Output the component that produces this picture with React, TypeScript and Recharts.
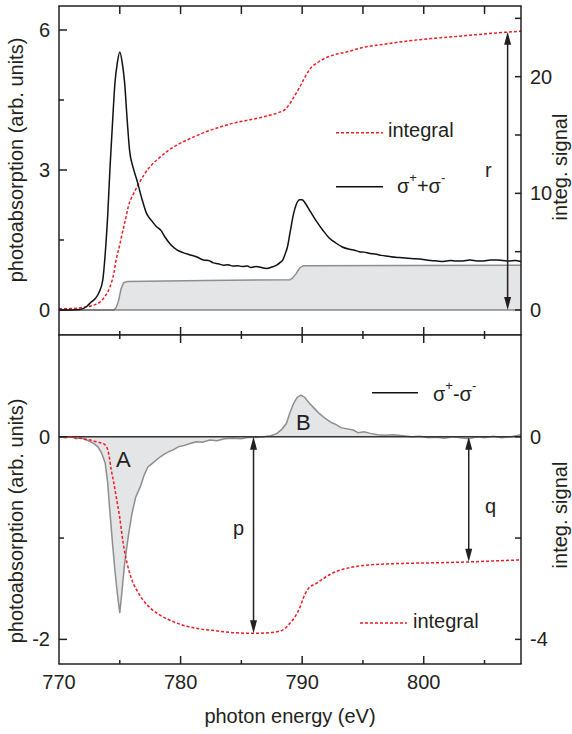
import React from 'react';
import { ComposedChart, Line, Area, XAxis, YAxis, ReferenceLine } from 'recharts';

// ---------- data ----------
// top panel: sigma+ + sigma- (left axis)
const sumE = [770, 771, 771.7, 772.3, 772.6, 773.0, 773.3, 773.6, 773.8, 774.0, 774.2, 774.4, 774.6, 774.8, 775.0, 775.2, 775.4, 775.6, 775.8, 776.1, 776.4, 776.8, 777.2, 777.6, 778.0, 778.4, 778.7, 779.2, 779.7, 780.2, 780.8, 781.3, 781.9, 782.3, 782.7, 783.1, 783.5, 783.9, 784.3, 784.7, 785.1, 785.5, 785.8, 786.2, 786.5, 786.8, 787.1, 787.5, 787.9, 788.2, 788.4, 788.6, 788.8, 789.0, 789.3, 789.5, 789.8, 790.0, 790.3, 790.6, 791.1, 791.7, 792.2, 792.8, 793.3, 793.9, 794.3, 794.7, 795.1, 795.6, 796.0, 796.5, 797.1, 797.7, 798.2, 798.7, 799.2, 799.7, 800.2, 800.6, 801.1, 801.6, 802.2, 802.7, 803.2, 803.8, 804.4, 804.9, 805.5, 806.0, 806.5, 807.0, 807.5, 808.0];
const sumV = [0.0, 0.0, 0.01, 0.08, 0.16, 0.25, 0.38, 0.64, 1.2, 2.0, 3.07, 4.0, 4.86, 5.3, 5.53, 5.3, 4.86, 4.1, 3.43, 3.05, 2.79, 2.4, 2.07, 1.92, 1.79, 1.7, 1.57, 1.4, 1.29, 1.23, 1.18, 1.14, 1.07, 1.06, 1.01, 0.99, 0.96, 0.97, 0.94, 0.95, 0.93, 0.94, 0.91, 0.93, 0.92, 0.9, 0.89, 0.92, 0.96, 1.02, 1.07, 1.2, 1.36, 1.65, 2.07, 2.25, 2.36, 2.36, 2.27, 2.14, 1.93, 1.71, 1.55, 1.43, 1.35, 1.3, 1.28, 1.25, 1.24, 1.21, 1.2, 1.17, 1.15, 1.13, 1.12, 1.11, 1.1, 1.09, 1.07, 1.06, 1.05, 1.04, 1.06, 1.05, 1.05, 1.07, 1.05, 1.05, 1.07, 1.07, 1.06, 1.05, 1.06, 1.04];

// top panel: integral (right axis)
const intE = [770, 771, 772, 772.8, 773.4, 773.8, 774.2, 774.5, 774.7, 775.0, 775.2, 775.5, 775.7, 776.1, 776.5, 777.0, 777.5, 778.2, 778.9, 779.8, 780.8, 781.9, 783.0, 784.3, 785.7, 787.0, 788.0, 788.6, 789.0, 789.4, 789.8, 790.1, 790.6, 791.4, 792.4, 793.6, 795.0, 796.9, 799.0, 801.0, 802.7, 804.3, 806.0, 808.0];
const intV = [0.1, 0.12, 0.23, 0.4, 0.71, 1.2, 2.0, 3.1, 4.3, 5.6, 6.57, 7.9, 8.85, 9.9, 10.7, 11.6, 12.3, 13.0, 13.6, 14.2, 14.7, 15.2, 15.6, 16.0, 16.3, 16.6, 16.9, 17.2, 17.7, 18.4, 19.1, 19.7, 20.6, 21.3, 21.8, 22.1, 22.5, 22.8, 23.1, 23.3, 23.45, 23.6, 23.75, 23.9];

// top panel: two-step background (left axis)
const stepE = [770, 774.5, 774.7, 774.9, 775.1, 775.3, 775.6, 782.0, 789.0, 789.2, 789.5, 789.8, 790.1, 808.0];
const stepV = [0, 0, 0.05, 0.2, 0.45, 0.58, 0.61, 0.63, 0.65, 0.68, 0.78, 0.9, 0.95, 0.96];

// bottom panel: sigma+ - sigma- (left axis)
const difE = [770, 770.5, 771.0, 771.4, 771.8, 772.2, 772.6, 772.9, 773.2, 773.5, 773.8, 774.0, 774.2, 774.4, 774.6, 774.8, 775.0, 775.2, 775.4, 775.7, 776.0, 776.3, 776.7, 777.0, 777.3, 777.8, 778.3, 778.7, 779.0, 779.4, 779.8, 780.2, 780.8, 781.3, 781.8, 782.4, 783.0, 783.6, 784.3, 785.0, 785.6, 786.2, 786.8, 787.4, 787.9, 788.3, 788.7, 789.0, 789.3, 789.6, 789.9, 790.2, 790.6, 791.0, 791.4, 791.9, 792.4, 792.8, 793.2, 793.6, 794.2, 794.6, 795.1, 795.6, 796.2, 796.8, 797.5, 798.3, 799.0, 799.7, 800.4, 801.0, 801.7, 802.4, 803.0, 803.7, 804.4, 805.0, 805.7, 806.4, 807.2, 808.0];
const difV = [0, -0.01, 0.0, -0.02, -0.01, -0.03, -0.05, -0.07, -0.1, -0.16, -0.26, -0.45, -0.76, -1.05, -1.32, -1.55, -1.74, -1.5, -1.25, -0.98, -0.76, -0.6, -0.49, -0.38, -0.3, -0.25, -0.2, -0.17, -0.15, -0.13, -0.1, -0.09, -0.066, -0.05, -0.055, -0.033, -0.04, -0.02, -0.016, -0.02, -0.005, -0.007, 0.0, 0.01, 0.03, 0.07, 0.13, 0.24, 0.33, 0.39, 0.41, 0.39, 0.33, 0.28, 0.23, 0.18, 0.14, 0.12, 0.09, 0.08, 0.066, 0.04, 0.05, 0.033, 0.02, 0.015, 0.02, 0.01, 0.0, 0.005, -0.01, -0.005, -0.015, 0.0, -0.01, -0.02, 0.0, -0.01, 0.005, -0.01, 0.0, 0.02];

// bottom panel: integral (right axis)
const bIntE = [770, 771, 772, 773.1, 773.8, 774.1, 774.3, 774.5, 774.7, 775.0, 775.2, 775.4, 775.6, 775.8, 776.1, 776.5, 776.9, 777.5, 778.3, 779.2, 780.2, 781.5, 782.9, 784.5, 786.0, 787.2, 787.9, 788.5, 789.0, 789.4, 789.8, 790.1, 790.5, 791.2, 792.0, 792.8, 794.0, 795.6, 797.0, 798.3, 800.5, 803.8, 806.0, 808.0];
const bIntV = [0, -0.01, -0.04, -0.1, -0.16, -0.35, -0.66, -0.9, -1.18, -1.6, -1.97, -2.27, -2.5, -2.68, -2.89, -3.07, -3.22, -3.38, -3.52, -3.63, -3.72, -3.79, -3.83, -3.87, -3.88, -3.87, -3.85, -3.8, -3.68, -3.56, -3.38, -3.18, -3.0, -2.89, -2.76, -2.66, -2.58, -2.53, -2.51, -2.5, -2.49, -2.47, -2.45, -2.43];

// axes
const xDomain = [770, 808];
const xTicks = [770, 775, 780, 785, 790, 795, 800, 805];
const xMajor = [770, 780, 790, 800];
const topLeftDomain = [-0.536, 6.514];
const topRightDomain = [-2.143, 26.057];
const botLeftDomain = [-2.243, 1.004];
const botRightDomain = [-4.486, 2.008];
const topLeftTicks = [0, 1.5, 3, 4.5, 6];
const topLeftMajor = [0, 3, 6];
const topRightTicks = [0, 5, 10, 15, 20, 25];
const topRightMajor = [0, 10, 20];
const botLeftTicks = [-2, -1, 0];
const botLeftMajor = [-2, 0];
const botRightTicks = [-4, -2, 0];
const botRightMajor = [-4, 0];

// arrows (energy, right-axis value)
const arrowR = { e: 806.9, v: 23.85 };
const arrowP = { e: 786.0, v: -3.88 };
const arrowQ = { e: 803.7, v: -2.47 };

const zip = (e: number[], v: number[]) => e.map((x, i) => ({ e: x, v: v[i] }));
const sumData = zip(sumE, sumV);
const intData = zip(intE, intV);
const stepData = zip(stepE, stepV);
const difData = zip(difE, difV);
const bIntData = zip(bIntE, bIntV);

const INK = '#231f20';
const RED = '#ec1c24';
const FONT = '"Liberation Sans", Arial, Helvetica, sans-serif';
const FS = 20;

const leftTick = (major: number[]) => (props: any) => {
  const { x, y, payload } = props;
  const isMajor = major.includes(payload.value);
  return (
    <g>
      <line x1={x} x2={x + (isMajor ? 8 : 5)} y1={y} y2={y} stroke={INK} strokeWidth={1.5} />
      {isMajor && (
        <text x={x - 9} y={y + 7} textAnchor="end" fontSize={FS} fontFamily={FONT} fill={INK}>
          {payload.value}
        </text>
      )}
    </g>
  );
};

const rightTick = (major: number[]) => (props: any) => {
  const { x, y, payload } = props;
  const isMajor = major.includes(payload.value);
  return (
    <g>
      <line x1={x} x2={x - 6} y1={y} y2={y} stroke={INK} strokeWidth={1.5} />
      {isMajor && (
        <text x={x + 9} y={y + 7} textAnchor="start" fontSize={FS} fontFamily={FONT} fill={INK}>
          {payload.value}
        </text>
      )}
    </g>
  );
};

// x tick marks drawn on the top and bottom frame through a vertical reference line at the tick value
const xTickShape = (value: number, topUniform: boolean, label: boolean) => (props: any) => {
  const { x1, y1, y2 } = props;
  const top = Math.min(y1, y2);
  const bot = Math.max(y1, y2);
  const isMajor = xMajor.includes(value);
  const topLen = topUniform ? 8 : isMajor ? 8 : 4;
  const botLen = isMajor ? 8 : 4;
  return (
    <g>
      {value !== xDomain[0] && (
        <>
          <line x1={x1} x2={x1} y1={top} y2={top + topLen} stroke={INK} strokeWidth={1.5} />
          <line x1={x1} x2={x1} y1={bot} y2={bot - botLen} stroke={INK} strokeWidth={1.5} />
        </>
      )}
      {label && isMajor && (
        <text x={x1} y={bot + 25} textAnchor="middle" fontSize={FS} fontFamily={FONT} fill={INK}>
          {value}
        </text>
      )}
    </g>
  );
};

const frameShape = (props: any) => {
  const { x1, y1, x2, y2 } = props;
  return <line x1={x1 - 0.75} x2={x2 + 0.75} y1={y1} y2={y2} stroke={INK} strokeWidth={1.5} />;
};

const arrowShape = (props: any) => {
  const { x1, y1, y2 } = props;
  const top = Math.min(y1, y2);
  const bot = Math.max(y1, y2);
  return (
    <g>
      <line x1={x1} x2={x1} y1={top + 8} y2={bot - 8} stroke={INK} strokeWidth={1.5} />
      <polygon points={`${x1},${top} ${x1 - 3.5},${top + 13} ${x1 + 3.5},${top + 13}`} fill={INK} />
      <polygon points={`${x1},${bot} ${x1 - 3.5},${bot - 13} ${x1 + 3.5},${bot - 13}`} fill={INK} />
    </g>
  );
};

function TopPanel() {
  return (
    <ComposedChart width={572} height={335} margin={{ top: 6, right: 0, bottom: 0, left: 0 }}>
      <XAxis xAxisId="xt" type="number" dataKey="e" domain={xDomain} allowDataOverflow hide />
      <YAxis yAxisId="tl" type="number" domain={topLeftDomain} allowDataOverflow ticks={topLeftTicks} interval={0}
        width={59} tickSize={0} tickMargin={0} tickLine={false} axisLine={{ stroke: INK, strokeWidth: 1.5 }} tick={leftTick(topLeftMajor)} />
      <YAxis yAxisId="tr" orientation="right" type="number" domain={topRightDomain} allowDataOverflow ticks={topRightTicks} interval={0}
        width={51} tickSize={0} tickMargin={0} tickLine={false} axisLine={{ stroke: INK, strokeWidth: 1.5 }} tick={rightTick(topRightMajor)} />
      <Area xAxisId="xt" yAxisId="tl" data={stepData} dataKey="v" type="linear" baseValue={0}
        fill="#e4e5e6" fillOpacity={1} stroke="#8e8e8e" strokeWidth={1.5} isAnimationActive={false} dot={false} activeDot={false} />
      <ReferenceLine xAxisId="xt" yAxisId="tl" y={0} stroke="#555" strokeWidth={1.2} />
      <Line xAxisId="xt" yAxisId="tr" data={intData} dataKey="v" type="monotone" stroke={RED} strokeWidth={1.5}
        strokeDasharray="3 2" dot={false} activeDot={false} isAnimationActive={false} />
      <Line xAxisId="xt" yAxisId="tl" data={sumData} dataKey="v" type="monotone" stroke="#111" strokeWidth={1.5}
        dot={false} activeDot={false} isAnimationActive={false} />
      <ReferenceLine xAxisId="xt" yAxisId="tr" ifOverflow="visible"
        segment={[{ x: arrowR.e, y: 0 }, { x: arrowR.e, y: arrowR.v }]} shape={arrowShape} />
      {/* frame and x ticks */}
      <ReferenceLine xAxisId="xt" yAxisId="tl" y={topLeftDomain[1]} ifOverflow="visible" shape={frameShape} />
      <ReferenceLine xAxisId="xt" yAxisId="tl" y={topLeftDomain[0]} ifOverflow="visible" shape={frameShape} />
      {xTicks.map((v) => (
        <ReferenceLine key={v} xAxisId="xt" yAxisId="tl" x={v} ifOverflow="visible" shape={xTickShape(v, true, false)} />
      ))}
    </ComposedChart>
  );
}

function BottomPanel() {
  return (
    <ComposedChart width={572} height={400} margin={{ top: 1, right: 0, bottom: 70, left: 0 }}>
      <XAxis xAxisId="xb" type="number" dataKey="e" domain={xDomain} allowDataOverflow hide />
      <YAxis yAxisId="bl" type="number" domain={botLeftDomain} allowDataOverflow ticks={botLeftTicks} interval={0}
        width={59} tickSize={0} tickMargin={0} tickLine={false} axisLine={{ stroke: INK, strokeWidth: 1.5 }} tick={leftTick(botLeftMajor)} />
      <YAxis yAxisId="br" orientation="right" type="number" domain={botRightDomain} allowDataOverflow ticks={botRightTicks} interval={0}
        width={51} tickSize={0} tickMargin={0} tickLine={false} axisLine={{ stroke: INK, strokeWidth: 1.5 }} tick={rightTick(botRightMajor)} />
      <Area xAxisId="xb" yAxisId="bl" data={difData} dataKey="v" type="linear" baseValue={0}
        fill="#e4e5e6" fillOpacity={1} stroke="#8e8e8e" strokeWidth={1.5} isAnimationActive={false} dot={false} activeDot={false} />
      <ReferenceLine xAxisId="xb" yAxisId="bl" y={0} stroke="#333" strokeWidth={1.5} />
      <Line xAxisId="xb" yAxisId="br" data={bIntData} dataKey="v" type="monotone" stroke={RED} strokeWidth={1.5}
        strokeDasharray="3 2" dot={false} activeDot={false} isAnimationActive={false} />
      <ReferenceLine xAxisId="xb" yAxisId="br" ifOverflow="visible"
        segment={[{ x: arrowP.e, y: 0 }, { x: arrowP.e, y: arrowP.v }]} shape={arrowShape} />
      <ReferenceLine xAxisId="xb" yAxisId="br" ifOverflow="visible"
        segment={[{ x: arrowQ.e, y: 0 }, { x: arrowQ.e, y: arrowQ.v }]} shape={arrowShape} />
      {/* frame and x ticks */}
      <ReferenceLine xAxisId="xb" yAxisId="bl" y={botLeftDomain[1]} ifOverflow="visible" shape={frameShape} />
      <ReferenceLine xAxisId="xb" yAxisId="bl" y={botLeftDomain[0]} ifOverflow="visible" shape={frameShape} />
      {xTicks.map((v) => (
        <ReferenceLine key={v} xAxisId="xb" yAxisId="bl" x={v} ifOverflow="visible" shape={xTickShape(v, false, true)} />
      ))}
    </ComposedChart>
  );
}

function Overlay() {
  const t = { fontFamily: FONT, fontSize: FS, fill: INK };
  return (
    <svg width={572} height={734} style={{ position: 'absolute', left: 0, top: 0, pointerEvents: 'none' }}>
      <text {...t} textAnchor="middle" transform="translate(23,160) rotate(-90)">photoabsorption (arb. units)</text>
      <text {...t} textAnchor="middle" transform="translate(23,521) rotate(-90)">photoabsorption (arb. units)</text>
      <text {...t} textAnchor="middle" transform="translate(567,167) rotate(-90)">integ. signal</text>
      <text {...t} textAnchor="middle" transform="translate(567,515) rotate(-90)">integ. signal</text>
      <text {...t} x={290} y={723} textAnchor="middle">photon energy (eV)</text>

      {/* top legend */}
      <line x1={336} x2={383} y1={132.7} y2={132.7} stroke={RED} strokeWidth={1.5} strokeDasharray="3 2" />
      <text {...t} x={388} y={137}>integral</text>
      <line x1={336} x2={383} y1={186.7} y2={186.7} stroke="#111" strokeWidth={1.5} />
      <text {...t} x={397} y={193}>σ<tspan dy={-11} fontSize={13}>+</tspan><tspan dy={11} fontSize={FS}>+σ</tspan><tspan dy={-11} fontSize={13}>-</tspan></text>

      {/* bottom legend */}
      <line x1={372} x2={418} y1={392.7} y2={392.7} stroke="#111" strokeWidth={1.5} />
      <text {...t} x={433} y={401}>σ<tspan dy={-11} fontSize={13}>+</tspan><tspan dy={11} fontSize={FS}>-σ</tspan><tspan dy={-11} fontSize={13}>-</tspan></text>
      <line x1={360} x2={407} y1={623} y2={623} stroke={RED} strokeWidth={1.5} strokeDasharray="3 2" />
      <text {...t} x={413} y={628}>integral</text>

      {/* annotations */}
      <text {...t} x={485} y={177}>r</text>
      <text {...t} x={233} y={535}>p</text>
      <text {...t} x={485} y={513}>q</text>
      <text {...t} fontSize={22} x={116} y={467}>A</text>
      <text {...t} fontSize={22} x={296} y={430}>B</text>
    </svg>
  );
}

export default function App() {
  return (
    <div style={{ position: 'absolute', left: 0, top: 0, width: 572, height: 734, background: '#fff' }}>
      <div style={{ position: 'absolute', left: 0, top: 0 }}>
        <TopPanel />
      </div>
      <div style={{ position: 'absolute', left: 0, top: 334 }}>
        <BottomPanel />
      </div>
      <Overlay />
    </div>
  );
}
